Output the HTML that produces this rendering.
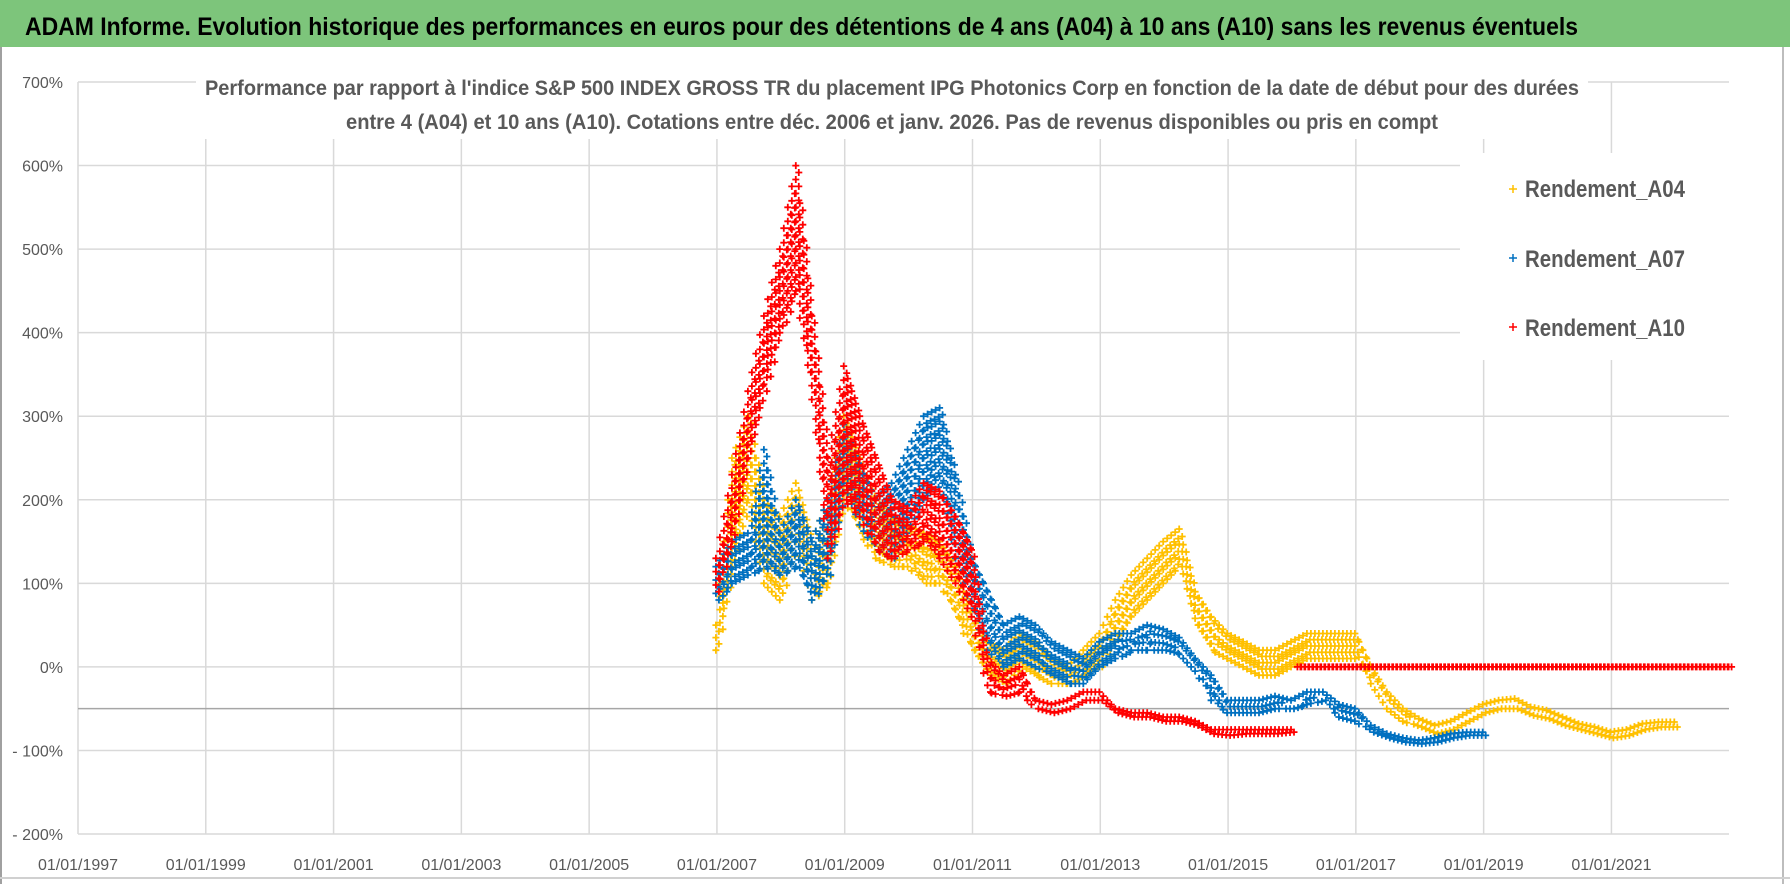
<!DOCTYPE html>
<html><head><meta charset="utf-8"><style>
html,body{margin:0;padding:0;background:#fff;}
svg{display:block;}
text{font-family:"Liberation Sans Narrow","Liberation Sans",sans-serif;}
</style></head><body>
<svg id="chart" width="1790" height="886" viewBox="0 0 1790 886" xmlns="http://www.w3.org/2000/svg">
<rect x="0" y="0" width="1790" height="886" fill="#fff"/>
<rect x="0" y="0" width="1790" height="47" fill="#7dc57b"/>
<text x="25" y="35" font-size="25" font-weight="bold" fill="#000" textLength="1553" lengthAdjust="spacingAndGlyphs">ADAM Informe. Evolution historique des performances en euros pour des détentions de 4 ans (A04) à 10 ans (A10) sans les revenus éventuels</text>
<line x1="1" y1="47" x2="1" y2="884" stroke="#a0a0a0" stroke-width="2"/>
<line x1="1783" y1="47" x2="1783" y2="884" stroke="#bdbdbd" stroke-width="2"/>
<line x1="0" y1="878" x2="1790" y2="878" stroke="#d0d0d0" stroke-width="2"/>
<g id="grid"></g>
<g id="yticks"></g>
<g id="xticks"></g>
<g id="series"></g>
<rect x="196" y="63" width="1392" height="76" fill="#fff"/>
<text x="205" y="95" font-size="21" font-weight="bold" fill="#595959" textLength="1374" lengthAdjust="spacingAndGlyphs">Performance par rapport à l'indice S&amp;P 500 INDEX GROSS TR  du placement IPG Photonics Corp en fonction de la date de début pour des durées</text>
<text x="346" y="129" font-size="21" font-weight="bold" fill="#595959" textLength="1092" lengthAdjust="spacingAndGlyphs">entre 4 (A04) et 10 ans (A10). Cotations entre déc. 2006 et janv. 2026. Pas de revenus disponibles ou pris en compt</text>
<g>
<rect x="1460" y="153" width="270" height="207" fill="#fff"/>
<g>
<path d="M1509 189h8M1513 185v8" stroke="#ffc000" stroke-width="1.5"/>
<text x="1525" y="197" font-size="24" font-weight="bold" fill="#595959" textLength="160" lengthAdjust="spacingAndGlyphs">Rendement_A04</text></g>
<g>
<path d="M1509 258h8M1513 254v8" stroke="#0070c0" stroke-width="1.5"/>
<text x="1525" y="267" font-size="24" font-weight="bold" fill="#595959" textLength="160" lengthAdjust="spacingAndGlyphs">Rendement_A07</text></g>
<g>
<path d="M1509 327h8M1513 323v8" stroke="#ff0000" stroke-width="1.5"/>
<text x="1525" y="336" font-size="24" font-weight="bold" fill="#595959" textLength="160" lengthAdjust="spacingAndGlyphs">Rendement_A10</text></g>
</g>
</svg>
<script>
// data: quarterly bands (step 0.25 year), values in %
const startYear = 2007;
const flatStartYear = 2016.1;
const stepYear = 0.25;
const a04Lo = [20,120,200,100,80,150,80,100,200,160,130,120,120,100,100,60,20,-10,-20,0,-10,-20,-20,-10,0,30,60,80,100,120,50,20,10,0,-10,-10,
  0,10,10,10,10,-20,-50,-65,-72,-80,-75,-65,-55,-50,-50,-58,-62,-70,-75,-80,-85,-82,-75,-72,-72];
const a04Hi = [50,250,300,200,180,220,150,200,300,250,200,180,170,160,150,120,60,30,20,40,30,10,0,20,40,80,110,130,150,165,90,60,40,30,20,20,
  30,40,40,40,40,0,-30,-50,-62,-70,-65,-55,-45,-40,-38,-48,-52,-60,-68,-72,-78,-75,-68,-66,-66];
const a07Lo = [80,100,110,120,110,120,80,110,220,170,140,130,170,200,220,130,70,20,0,10,0,-10,-20,-20,0,10,20,20,20,15,-5,-40,-55,-55,-55,-50,-50,-45,-40,-60,-65,-78,-85,-90,-92,-90,-85,-82,-82];
const a07Hi = [120,150,160,260,160,200,150,200,290,240,200,220,260,300,310,230,130,90,50,60,50,30,20,10,30,40,40,50,45,35,10,-10,-40,-40,-40,-35,-40,-30,-30,-45,-50,-70,-80,-85,-88,-85,-80,-78,-78];
const a10Lo = [90,150,250,330,400,450,320,130,200,180,140,130,140,150,130,100,60,-30,-35,-30,-50,-55,-50,-40,-40,-55,-60,-60,-65,-65,-70,-80,-82,-80,-80,-80,-78];
const a10Hi = [130,230,330,420,500,600,420,250,360,300,250,200,190,220,210,180,140,10,-10,0,-40,-45,-40,-30,-30,-50,-55,-55,-60,-60,-65,-75,-75,-75,-75,-75,-75];
const a10FlatLo = [0,0,0,0,0,0,0,0,0,0,0,0,0,0,0,0,0,0,0,0,0,0,0,0,0,0,0,0];
const a10FlatHi = [0,0,0,0,0,0,0,0,0,0,0,0,0,0,0,0,0,0,0,0,0,0,0,0,0,0,0,0];
const yTicks = [700,600,500,400,300,200,100,0,-100,-200];
const yTickLabels = ["700%","600%","500%","400%","300%","200%","100%","0%","- 100%","- 200%"];
const xTickYears = [1997,1999,2001,2003,2005,2007,2009,2011,2013,2015,2017,2019,2021];
const xTickLabels = ["01/01/1997","01/01/1999","01/01/2001","01/01/2003","01/01/2005","01/01/2007","01/01/2009","01/01/2011","01/01/2013","01/01/2015","01/01/2017","01/01/2019","01/01/2021"];

const NS = "http://www.w3.org/2000/svg";
const PL = 78, PR = 1729, PT = 82, PB = 834;
const XMIN = 1997, XMAX = 2022.84, YMIN = -200, YMAX = 700;
function X(yr){ return PL + (yr - XMIN) / (XMAX - XMIN) * (PR - PL); }
function Y(v){ return PT + (YMAX - v) / (YMAX - YMIN) * (PB - PT); }
function mk(tag, attrs, parent){ const e = document.createElementNS(NS, tag); for (const k in attrs) e.setAttribute(k, attrs[k]); parent.appendChild(e); return e; }

const grid = document.getElementById('grid');
yTicks.forEach(function(v){
  const l = mk('line', {x1:PL, x2:PR, y1:Y(v), y2:Y(v), stroke:'#d9d9d9', 'stroke-width':1.5}, grid);
  
  
});
xTickYears.forEach(function(yr){
  const l = mk('line', {x1:X(yr), x2:X(yr), y1:PT, y2:PB, stroke:'#d9d9d9', 'stroke-width':1.5}, grid);
  
  
});
const ax = mk('line', {x1:PL, x2:PR, y1:Y(-50), y2:Y(-50), stroke:'#a6a6a6', 'stroke-width':1.5}, grid);



const yt = document.getElementById('yticks');
yTicks.forEach(function(v, i){
  const t = mk('text', {x:63, y:Y(v)+6, 'text-anchor':'end', 'font-size':16, fill:'#595959'}, yt);
  t.textContent = yTickLabels[i];
  
  
});
const xt = document.getElementById('xticks');
xTickYears.forEach(function(yr, i){
  const t = mk('text', {x:X(yr), y:870, 'text-anchor':'middle', 'font-size':16, fill:'#595959'}, xt);
  t.textContent = xTickLabels[i];
  
  
});

const series = document.getElementById('series');
function drawSeries(lo, hi, start, color, name){
  let d = '';
  const n = lo.length;
  for (let i = 0; i < n; i++){
    const y0 = start + i * stepYear;
    const nsub = (i === n - 1) ? 1 : 4;
    for (let s = 0; s < nsub; s++){
      const f = s / 4;
      const yr = y0 + f * stepYear;
      const nxt = (i < n - 1) ? i + 1 : i;
      const l = lo[i] + (lo[nxt] - lo[i]) * f;
      const h = hi[i] + (hi[nxt] - hi[i]) * f;
      const x = X(yr);
      const ya = Y(h), yb = Y(l);
      const cnt = Math.max(1, Math.round((yb - ya) / 7));
      for (let k = 0; k <= cnt; k++){
        const yy = ya + (yb - ya) * k / cnt;
        const xo = (k % 2) ? 2 : -1;
        d += 'M' + (x + xo - 3.5).toFixed(1) + ' ' + yy.toFixed(1) + 'h7M' + (x + xo).toFixed(1) + ' ' + (yy - 3.5).toFixed(1) + 'v7';
      }
    }
  }
  const p = mk('path', {d:d, stroke:color, 'stroke-width':1.8, fill:'none'}, series);
  
  
}
drawSeries(a04Lo, a04Hi, startYear, '#ffc000', 'series-a04');
drawSeries(a07Lo, a07Hi, startYear, '#0070c0', 'series-a07');
drawSeries(a10Lo, a10Hi, startYear, '#ff0000', 'series-a10');
drawSeries(a10FlatLo, a10FlatHi, flatStartYear, '#ff0000', 'series-a10-flat');
</script>
</body></html>
